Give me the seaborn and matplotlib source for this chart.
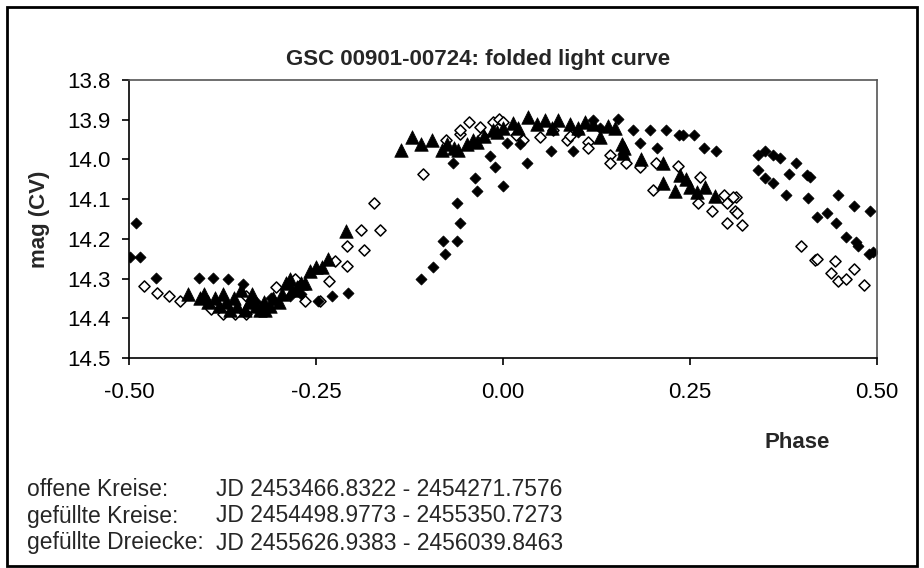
import numpy as np
import matplotlib
matplotlib.use("Agg")
import matplotlib.pyplot as plt
import seaborn as sns
import pandas as pd
from matplotlib.patches import Rectangle

# offene Kreise (open diamonds)
open_phase = [-0.480, -0.462, -0.446, -0.432, -0.391, -0.374, -0.358, -0.343, -0.343, -0.303,
              -0.278, -0.265, -0.245, -0.232, -0.225, -0.209, -0.209, -0.186, -0.190, -0.164,
              -0.172, -0.107, -0.076, -0.057, -0.057, -0.045, -0.031, -0.027, -0.013, -0.005,
              0.000, 0.018, 0.027, 0.049, 0.067, 0.085, 0.090, 0.114, 0.114, 0.143,
              0.143, 0.165, 0.183, 0.201, 0.205, 0.234, 0.264, 0.261, 0.280, 0.295,
              0.300, 0.312, 0.308, 0.310, 0.313, 0.300, 0.320, 0.399, 0.417, 0.420,
              0.444, 0.438, 0.448, 0.458, 0.469, 0.482]
open_mag = [14.318, 14.337, 14.344, 14.357, 14.377, 14.390, 14.390, 14.390, 14.344, 14.320,
            14.300, 14.357, 14.357, 14.305, 14.255, 14.268, 14.218, 14.228, 14.178, 14.178,
            14.109, 14.037, 13.951, 13.935, 13.926, 13.905, 13.918, 13.940, 13.905, 13.897,
            13.905, 13.939, 13.950, 13.943, 13.926, 13.951, 13.940, 13.955, 13.970, 13.990,
            14.008, 14.008, 14.018, 14.077, 14.010, 14.017, 14.045, 14.109, 14.129, 14.090,
            14.110, 14.095, 14.095, 14.130, 14.135, 14.160, 14.164, 14.218, 14.253, 14.250,
            14.257, 14.287, 14.305, 14.300, 14.277, 14.316]

# gefuellte Kreise (filled diamonds)
filled_phase = [-0.498, -0.490, -0.485, -0.464, -0.406, -0.388, -0.367, -0.348, -0.330, -0.310,
                -0.285, -0.270, -0.247, -0.229, -0.207, -0.110, -0.093, -0.078, -0.080, -0.062,
                -0.058, -0.062, -0.035, -0.037, -0.067, -0.017, -0.011, 0.000, 0.005, 0.023,
                0.032, 0.064, 0.094, 0.100, 0.120, 0.130, 0.154, 0.174, 0.197, 0.218,
                0.235, 0.240, 0.255, 0.183, 0.206, 0.269, 0.285, 0.341, 0.350, 0.361,
                0.370, 0.392, 0.341, 0.350, 0.361, 0.383, 0.406, 0.410, 0.378, 0.408,
                0.448, 0.469, 0.491, 0.420, 0.433, 0.445, 0.458, 0.472, 0.474, 0.489,
                0.494]
filled_mag = [14.246, 14.159, 14.246, 14.298, 14.298, 14.298, 14.300, 14.314, 14.360, 14.350,
              14.345, 14.340, 14.357, 14.344, 14.337, 14.300, 14.270, 14.238, 14.205, 14.205,
              14.159, 14.109, 14.079, 14.046, 14.008, 13.991, 14.018, 14.067, 13.958, 13.960,
              14.008, 13.978, 13.978, 13.930, 13.900, 13.920, 13.899, 13.926, 13.926, 13.926,
              13.939, 13.939, 13.939, 13.958, 13.970, 13.970, 13.978, 13.989, 13.978, 13.989,
              13.997, 14.008, 14.027, 14.048, 14.059, 14.037, 14.040, 14.045, 14.090, 14.098,
              14.090, 14.117, 14.129, 14.146, 14.136, 14.159, 14.196, 14.207, 14.218, 14.238,
              14.232]

# gefuellte Dreiecke (filled triangles)
tri_phase = [-0.421, -0.405, -0.400, -0.395, -0.385, -0.380, -0.375, -0.370, -0.365, -0.360,
             -0.355, -0.350, -0.345, -0.340, -0.335, -0.330, -0.325, -0.320, -0.318, -0.312,
             -0.308, -0.300, -0.295, -0.290, -0.285, -0.282, -0.275, -0.270, -0.265, -0.258,
             -0.250, -0.242, -0.234, -0.210, -0.137, -0.122, -0.109, -0.095, -0.082, -0.075,
             -0.066, -0.060, -0.048, -0.040, -0.035, -0.025, -0.013, -0.008, 0.000, 0.014,
             0.020, 0.034, 0.045, 0.056, 0.065, 0.074, 0.089, 0.100, 0.110, 0.120,
             0.130, 0.140, 0.150, 0.159, 0.160, 0.162, 0.184, 0.214, 0.214, 0.230,
             0.237, 0.245, 0.250, 0.259, 0.270, 0.283]
tri_mag = [14.340, 14.350, 14.340, 14.360, 14.350, 14.370, 14.340, 14.360, 14.380, 14.350,
           14.370, 14.330, 14.380, 14.360, 14.340, 14.370, 14.380, 14.360, 14.380, 14.370,
           14.350, 14.360, 14.340, 14.310, 14.300, 14.330, 14.320, 14.310, 14.310, 14.280,
           14.270, 14.270, 14.250, 14.180, 13.975, 13.943, 13.960, 13.951, 13.975, 13.960,
           13.970, 13.975, 13.961, 13.950, 13.957, 13.940, 13.926, 13.930, 13.920, 13.909,
           13.920, 13.892, 13.910, 13.900, 13.920, 13.900, 13.910, 13.920, 13.905, 13.910,
           13.943, 13.915, 13.920, 13.960, 13.985, 13.970, 14.000, 14.010, 14.060, 14.080,
           14.040, 14.050, 14.070, 14.081, 14.070, 14.092]

x_ticks = [-0.50, -0.25, 0.00, 0.25, 0.50]
y_ticks = [13.8, 13.9, 14.0, 14.1, 14.2, 14.3, 14.4, 14.5]
legend_names = ["offene Kreise:", "gefüllte Kreise:", "gefüllte Dreiecke:"]
legend_ranges = ["JD 2453466.8322 - 2454271.7576",
                 "JD 2454498.9773 - 2455350.7273",
                 "JD 2455626.9383 - 2456039.8463"]

sns.set_style("ticks")
plt.rcParams["font.family"] = ["Liberation Sans", "DejaVu Sans"]

df_open = pd.DataFrame({"phase": open_phase, "mag": open_mag})
df_filled = pd.DataFrame({"phase": filled_phase, "mag": filled_mag})
df_tri = pd.DataFrame({"phase": tri_phase, "mag": tri_mag})

fig = plt.figure(figsize=(9.24, 5.68), dpi=100)
ax = fig.add_axes([129 / 924, 1 - 358 / 568, 748 / 924, 278 / 568])

sns.scatterplot(data=df_open, x="phase", y="mag", ax=ax, marker="D", s=32,
                facecolor="white", edgecolor="black", linewidth=1.1)
sns.scatterplot(data=df_filled, x="phase", y="mag", ax=ax, marker="D", s=32,
                color="black", edgecolor="black", linewidth=0.5)
sns.scatterplot(data=df_tri, x="phase", y="mag", ax=ax, marker="^", s=95,
                color="black", edgecolor="black", linewidth=0.5)

ax.set_xlim(-0.5, 0.5)
ax.set_ylim(14.5, 13.8)
ax.set_xticks(x_ticks)
ax.set_xticklabels([f"{v:.2f}" for v in x_ticks])
ax.set_yticks(y_ticks)
ax.set_yticklabels([f"{v:.1f}" for v in y_ticks])
ax.tick_params(axis="both", direction="out", length=5, width=1.2, colors="black",
               labelsize=16, pad=8)
ax.tick_params(axis="x", pad=12)
for side in ["left", "bottom", "top", "right"]:
    ax.spines[side].set_visible(True)
    ax.spines[side].set_color("black")
    ax.spines[side].set_linewidth(1.2)
ax.spines["top"].set_color("#555555")
ax.spines["right"].set_color("#555555")
ax.set_xlabel("")
ax.set_ylabel("")

fig.text(478 / 924, 1 - 60 / 568, "GSC 00901-00724: folded light curve",
         ha="center", va="center", fontsize=16, fontweight="bold")
fig.text(40 / 924, 1 - 219 / 568, "mag (CV)", rotation=90, ha="center", va="center",
         fontsize=16, fontweight="bold")
fig.text(830 / 924, 1 - 443 / 568, "Phase", ha="right", va="center",
         fontsize=16, fontweight="bold")

for i, (name, rng) in enumerate(zip(legend_names, legend_ranges)):
    y = 1 - (489 + i * 27) / 568
    fig.text(27 / 924, y, name, ha="left", va="center", fontsize=16.5)
    fig.text(216 / 924, y, rng, ha="left", va="center", fontsize=16.5)

fig.patches.append(Rectangle((7 / 924, 2 / 568), 910 / 924, 559 / 568,
                             transform=fig.transFigure, fill=False,
                             edgecolor="black", linewidth=2))

fig.savefig("out.png", dpi=100)
